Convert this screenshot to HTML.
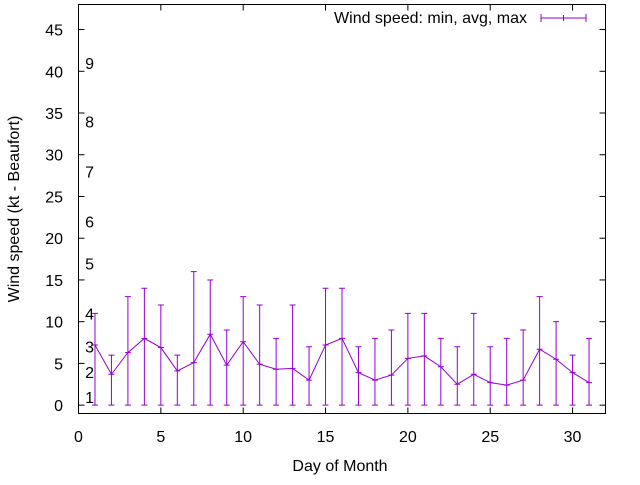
<!DOCTYPE html>
<html><head><meta charset="utf-8"><style>
body{margin:0;background:#fff}
svg text{font-family:"Liberation Sans",sans-serif;font-size:16px;fill:#000}
</style></head><body>
<svg id="chart" width="640" height="480" viewBox="0 0 640 480" xmlns="http://www.w3.org/2000/svg">
<rect x="78.5" y="4.5" width="527" height="409" fill="none" stroke="#000"/>
<g id="axes"></g>
<g id="beaufort"></g>
<g id="series"></g>
<text x="340" y="471" text-anchor="middle" font-size="14">Day of Month</text>
<text transform="translate(19,209) rotate(-90)" text-anchor="middle" font-size="14">Wind speed (kt - Beaufort)</text>
<g>
<text x="527" y="23" text-anchor="end">Wind speed: min, avg, max</text>
<line x1="541" y1="18" x2="586" y2="18" stroke="#9400d3"/>
<line x1="541" y1="14" x2="541" y2="22" stroke="#9400d3"/>
<line x1="586" y1="14" x2="586" y2="22" stroke="#9400d3"/>
<line x1="563.5" y1="15" x2="563.5" y2="21" stroke="#9400d3"/>
</g>
</svg>
<script>
const days=[1,2,3,4,5,6,7,8,9,10,11,12,13,14,15,16,17,18,19,20,21,22,23,24,25,26,27,28,29,30,31];
const minV=[0,0,0,0,0,0,0,0,0,0,0,0,0,0,0,0,0,0,0,0,0,0,0,0,0,0,0,0,0,0,0];
const avgV=[7.2,3.7,6.3,8.0,6.9,4.1,5.1,8.5,4.8,7.6,4.9,4.3,4.4,3.0,7.2,8.0,3.9,3.0,3.6,5.6,5.9,4.6,2.5,3.7,2.7,2.4,3.0,6.7,5.5,3.9,2.7];
const maxV=[11,6,13,14,12,6,16,15,9,13,12,8,12,7,14,14,7,8,9,11,11,8,7,11,7,8,9,13,10,6,8];
const xTicks=[0,5,10,15,20,25,30];
const yTicks=[0,5,10,15,20,25,30,35,40,45];
const beaufortLabels=["1","2","3","4","5","6","7","8","9"];
const beaufortKt=[1,4,7,11,17,22,28,34,41];
const NS="http://www.w3.org/2000/svg";
const X0=78.5,X1=605.5,Y0=413.5,Y1=4.5,xmin=0,xmax=32,ymin=-1,ymax=48;
function sx(v){return X0+(v-xmin)/(xmax-xmin)*(X1-X0);}
function sy(v){return Y0-(v-ymin)/(ymax-ymin)*(Y0-Y1);}
function mk(tag,attrs,parent){const e=document.createElementNS(NS,tag);for(const k in attrs)e.setAttribute(k,attrs[k]);parent.appendChild(e);return e;}
const axes=document.getElementById('axes');
xTicks.forEach(t=>{
  const x=sx(t);
  const a=mk('line',{x1:x,y1:Y0,x2:x,y2:Y0-6,stroke:'#000'},axes);
  
  
  const b=mk('line',{x1:x,y1:Y1,x2:x,y2:Y1+6,stroke:'#000'},axes);
  
  
  const l=mk('text',{x:x,y:442,'text-anchor':'middle'},axes);
  l.textContent=t;
  
  
});
yTicks.forEach(t=>{
  const y=sy(t);
  const a=mk('line',{x1:X0,y1:y,x2:X0+6,y2:y,stroke:'#000'},axes);
  
  
  const b=mk('line',{x1:X1,y1:y,x2:X1-6,y2:y,stroke:'#000'},axes);
  
  
  const l=mk('text',{x:63,y:y+6,'text-anchor':'end'},axes);
  l.textContent=t;
  
  
});
const bf=document.getElementById('beaufort');
beaufortLabels.forEach((s,i)=>{
  const l=mk('text',{x:sx(0.4),y:sy(beaufortKt[i])+6},bf);
  l.textContent=s;
  
  
});
const g=document.getElementById('series');
const c='#9400d3';
days.forEach((d,i)=>{
  const x=sx(d),yl=sy(minV[i]),yh=sy(maxV[i]);
  const bar=mk('path',{d:`M${x},${yl}V${yh}M${x-3},${yl}H${x+3}M${x-3},${yh}H${x+3}M${x-3},${sy(avgV[i])}H${x+3}`,stroke:c,fill:'none'},g);
  
  
});
const pl=mk('polyline',{points:days.map((d,i)=>sx(d)+','+sy(avgV[i])).join(' '),stroke:c,fill:'none'},g);


</script>
</body></html>
